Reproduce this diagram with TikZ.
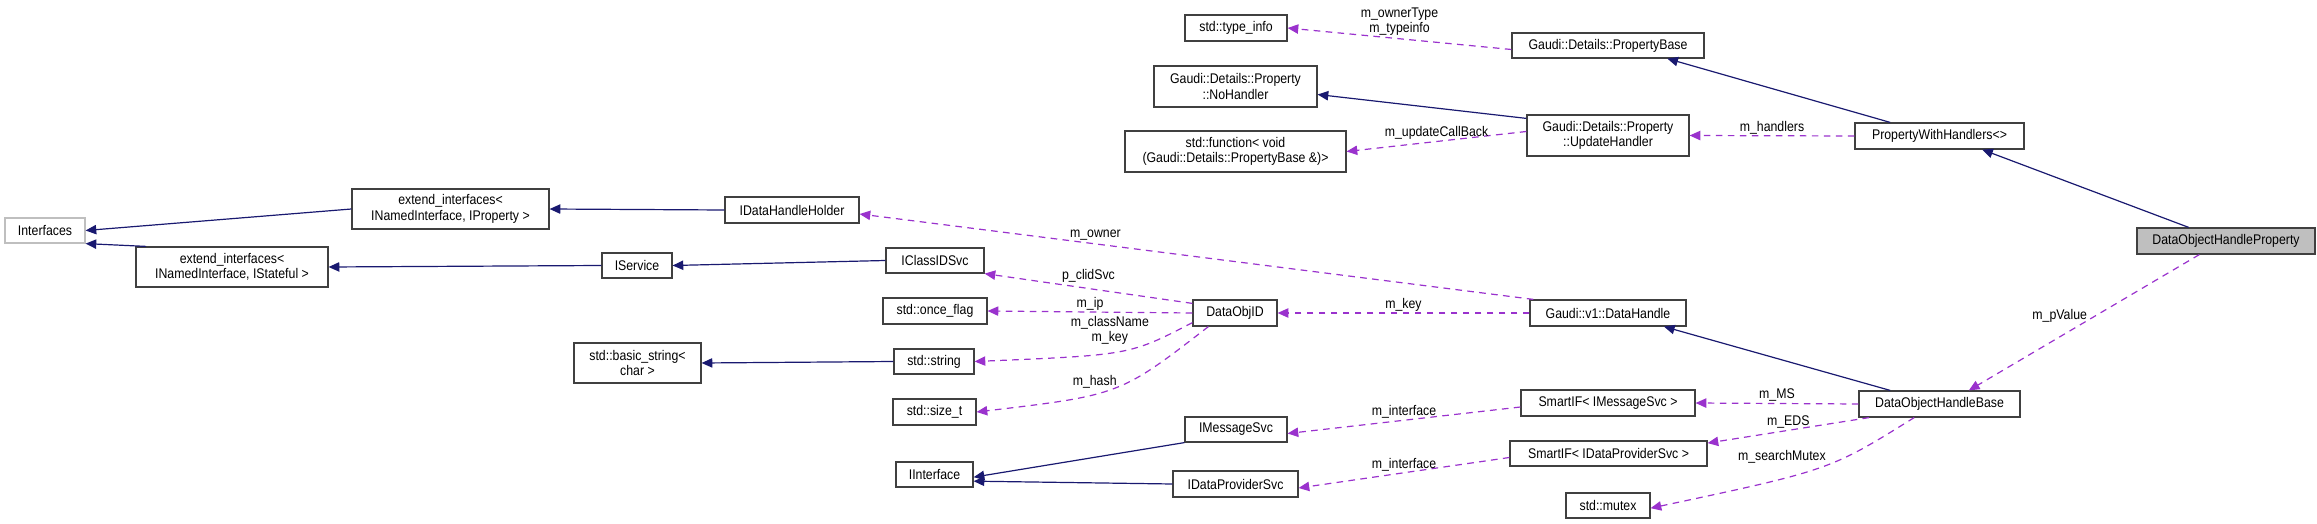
\documentclass[tikz,border=0pt]{standalone}
\usepackage{fontspec}
\setmainfont{Liberation Sans}[FakeStretch=0.88]
\usetikzlibrary{arrows.meta}
\definecolor{nav}{RGB}{25,25,112}
\definecolor{pur}{RGB}{154,50,205}
\newcommand\bx[7][]{\node[box,#1,minimum width={(#4-#2)*0.75pt},minimum height={(#5-#3)*0.75pt}] (#6) at ({(#2+#4)/2},{(#3+#5)/2}) {#7};}
\begin{document}
\begin{tikzpicture}[x=0.75pt,y=-0.75pt,font=\fontsize{10.5}{11.5}\selectfont,
 box/.style={draw=black!75,line width=0.9pt,fill=white,inner sep=1pt,align=center},
 inh/.style={draw=nav,line width=0.9pt,-{Triangle[length=8pt,width=7pt]}},
 mem/.style={draw=pur,line width=0.9pt,dash pattern=on 5pt off 4pt,-{Triangle[length=8pt,width=7pt]}},
 lab/.style={inner sep=0pt,align=center,fill=none}]
\useasboundingbox (0,0) rectangle (2317,524);
\bx[draw=black!25]{5}{218}{85}{243}{Interfaces}{Interfaces}
\bx{352}{189}{549}{229}{ext1}{extend\_interfaces<\\ INamedInterface, IProperty >}
\bx{136}{247}{328}{287}{ext2}{extend\_interfaces<\\ INamedInterface, IStateful >}
\bx{602}{253}{672}{278}{IService}{IService}
\bx{725}{197}{859}{223}{IDHH}{IDataHandleHolder}
\bx{574}{343}{701}{383}{bstr}{std::basic\_string<\\ char >}
\bx{1185}{15}{1287}{41}{tinfo}{std::type\_info}
\bx{1154}{66}{1317}{107}{noh}{Gaudi::Details::Property\\ ::NoHandler}
\bx{1125}{131}{1346}{172}{func}{std::function< void\\ (Gaudi::Details::PropertyBase \&)>}
\bx{1512}{33}{1704}{58}{pbase}{Gaudi::Details::PropertyBase}
\bx{1527}{115}{1689}{156}{uh}{Gaudi::Details::Property\\ ::UpdateHandler}
\bx{886}{248}{984}{273}{clid}{IClassIDSvc}
\bx{883}{298}{987}{324}{once}{std::once\_flag}
\bx{1193}{300}{1277}{326}{doid}{DataObjID}
\bx{894}{349}{974}{374}{str}{std::string}
\bx{893}{399}{976}{425}{sizet}{std::size\_t}
\bx{1185}{417}{1287}{442}{ims}{IMessageSvc}
\bx{896}{462}{973}{487}{iif}{IInterface}
\bx{1173}{471}{1298}{497}{idps}{IDataProviderSvc}
\bx{1530}{300}{1686}{326}{dh}{Gaudi::v1::DataHandle}
\bx{1521}{390}{1695}{416}{sims}{SmartIF< IMessageSvc >}
\bx{1510}{441}{1707}{466}{sidps}{SmartIF< IDataProviderSvc >}
\bx{1566}{493}{1650}{518}{mutex}{std::mutex}
\bx{1855}{123}{2024}{149}{pwh}{PropertyWithHandlers<>}
\bx[fill=black!25]{2137}{228}{2315}{254}{dohp}{DataObjectHandleProperty}
\bx{1859}{391}{2020}{417}{dohb}{DataObjectHandleBase}
% inheritance
\draw[inh] (ext1.west) -- (Interfaces.east);
\draw[inh] ([xshift=8pt]ext2.north west) -- (Interfaces.south east);
\draw[inh] (IDHH.west) -- (ext1.east);
\draw[inh] (IService.west) -- (ext2.east);
\draw[inh] (clid.west) -- (IService.east);
\draw[inh] (str.west) -- (bstr.east);
\draw[inh] (ims.south west) -- ([yshift=-2pt]iif.east);
\draw[inh] (idps.west) -- ([yshift=-5pt]iif.east);
\draw[inh] ([yshift=-3pt]uh.north west) -- ([yshift=-6pt]noh.east);
\draw[inh] ([xshift=-37pt]pwh.north) -- ([xshift=-28pt]pbase.south east);
\draw[inh] ([xshift=-28pt]dohp.north) -- ([xshift=32pt]pwh.south);
\draw[inh] ([xshift=-37pt]dohb.north) -- ([xshift=-17pt]dh.south east);
% members
\draw[mem] ([yshift=-3pt]pbase.west) -- (tinfo.east) node[lab,pos=0.5,above=2pt]{m\_ownerType\\m\_typeinfo};
\draw[mem] ([yshift=3pt]uh.west) -- (func.east) node[lab,pos=0.5,above=1pt]{m\_updateCallBack};
\draw[mem] (pwh.west) -- (uh.east) node[lab,pos=0.5,above=1pt]{m\_handlers};
\draw[mem] ([xshift=3pt]dh.north west) -- ([yshift=-3pt]IDHH.east) node[lab,pos=0.65,above=2pt]{m\_owner};
\draw[mem] (dh.west) -- (doid.east) node[lab,pos=0.5,above=1pt]{m\_key};
\draw[mem] ([yshift=-3pt]doid.north west) -- (clid.south east) node[lab,pos=0.5,above=4pt]{p\_clidSvc};
\draw[mem] (doid.west) -- (once.east) node[lab,pos=0.5,above=1pt]{m\_ip};
\draw[mem] ([yshift=3pt]doid.south west) .. controls (1130,355) .. (str.east) node[lab,pos=0.55,above=6pt]{m\_className\\m\_key};
\draw[mem] ([xshift=12pt]doid.south west) .. controls (1120,395) .. (sizet.east) node[lab,pos=0.6,above=4pt]{m\_hash};
\draw[mem] ([yshift=-3pt]sims.west) -- ([yshift=-3pt]ims.east) node[lab,pos=0.5,above=1pt]{m\_interface};
\draw[mem] ([yshift=-3pt]sidps.west) -- ([yshift=-3pt]idps.east) node[lab,pos=0.5,above=1pt]{m\_interface};
\draw[mem] ([xshift=-20pt]dohp.south) -- ([xshift=22pt]dohb.north) node[lab,pos=0.45,left=6pt]{m\_pValue};
\draw[mem] (dohb.west) -- (sims.east) node[lab,pos=0.5,above=1pt]{m\_MS};
\draw[mem] ([xshift=8pt]dohb.south west) -- ([yshift=-2pt]sidps.north east) node[lab,pos=0.5,above=1pt]{m\_EDS};
\draw[mem] ([xshift=-19pt]dohb.south) .. controls (1830,470) .. ([yshift=-2pt]mutex.east) node[lab,pos=0.45,above left=1pt]{m\_searchMutex};
\end{tikzpicture}
\end{document}
